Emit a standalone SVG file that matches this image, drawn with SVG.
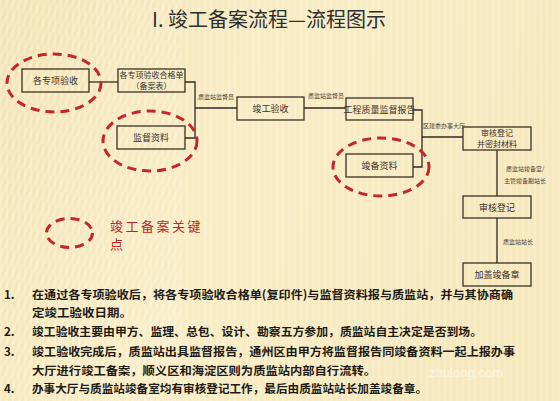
<svg xmlns="http://www.w3.org/2000/svg" width="560" height="401" viewBox="0 0 560 401">
<defs>
<linearGradient id="bg" x1="0" y1="0" x2="1" y2="0.3">
<stop offset="0" stop-color="#f4e3b3"/>
<stop offset="0.5" stop-color="#f9edc5"/>
<stop offset="1" stop-color="#f7e8bd"/>
</linearGradient>
<pattern id="stripes" width="6" height="6" patternUnits="userSpaceOnUse">
<rect x="0" y="0" width="2" height="6" fill="#ffffff" opacity="0.18"/>
</pattern>
<pattern id="diag" width="6" height="6" patternUnits="userSpaceOnUse" patternTransform="rotate(25)">
<rect x="0" y="0" width="2" height="6" fill="#ffffff" opacity="0.22"/>
</pattern>
<style>
.box{fill:none;stroke:#3a3022;stroke-width:1.3}
.bt{font-family:"Noto Sans CJK SC","Noto Sans",sans-serif;font-size:9px;fill:#3a3330;text-anchor:middle}
.bt2{font-family:"Noto Sans CJK SC","Noto Sans",sans-serif;font-size:8px;fill:#3a3330;text-anchor:middle}
.lbl{font-family:"Noto Sans CJK SC","Noto Sans",sans-serif;font-size:6px;fill:#4a4238}
.ln{fill:none;stroke:#2e2a24;stroke-width:1.3}
.ring{fill:none;stroke:#c4262a;stroke-width:3;stroke-dasharray:9 6}
.item{font-family:"Noto Sans CJK SC","Noto Sans",sans-serif;font-size:11.5px;font-weight:bold;fill:#1e1a14}
</style>
</defs>
<rect width="560" height="401" fill="url(#bg)"/>
<rect width="560" height="401" fill="url(#stripes)"/>
<rect width="180" height="401" fill="url(#diag)"/>

<text x="269" y="27" text-anchor="middle" font-family="'Noto Sans CJK SC','Noto Sans',sans-serif" font-size="20" fill="#2e2e2e">I. 竣工备案流程—流程图示</text>

<g id="connectors">
<line class="ln" x1="89" y1="82" x2="118" y2="82"/>
<polyline class="ln" points="185,82 195,82 195,138 185,138"/>
<line class="ln" x1="195" y1="108" x2="237" y2="108"/>
<line class="ln" x1="304" y1="108" x2="346" y2="108"/>
<polyline class="ln" points="413,110 422,110 422,167 413,167"/>
<line class="ln" x1="422" y1="137" x2="463" y2="137"/>
<line class="ln" x1="497" y1="150" x2="497" y2="196"/>
<line class="ln" x1="497" y1="218" x2="497" y2="263"/>
<text class="lbl" x="198" y="99">质监站监督员</text>
<text class="lbl" x="308" y="98">质监站监督员</text>
<text class="lbl" x="423" y="128">区建委办事大厅</text>
<text class="lbl" x="506" y="171">质监站竣备室/</text>
<text class="lbl" x="504" y="183">主管竣备副站长</text>
<text class="lbl" x="503" y="244">质监站站长</text>
</g>

<g id="n1"><rect class="box" x="22" y="69" width="67" height="23"/><text class="bt" x="55.5" y="84">各专项验收</text></g>
<g id="n2"><rect class="box" x="118" y="69" width="67" height="23"/><text class="bt2" x="151.5" y="78">各专项验收合格单</text><text class="bt2" x="151.5" y="89">（备案表）</text></g>
<g id="n3"><rect class="box" x="117" y="126" width="68" height="23"/><text class="bt" x="151" y="141">监督资料</text></g>
<g id="n4"><rect class="box" x="237" y="97" width="67" height="23"/><text class="bt" x="270.5" y="112">竣工验收</text></g>
<g id="n5"><rect class="box" x="346" y="98" width="67" height="22"/><text class="bt" x="379.5" y="112.5">工程质量监督报告</text></g>
<g id="n6"><rect class="box" x="346" y="154" width="67" height="23"/><text class="bt" x="379.5" y="169">竣备资料</text></g>
<g id="n7"><rect class="box" x="463" y="127" width="68" height="23"/><text class="bt2" x="497" y="136">审核登记</text><text class="bt2" x="497" y="147">并密封材料</text></g>
<g id="n8"><rect class="box" x="463" y="196" width="68" height="22"/><text class="bt" x="497" y="210.5">审核登记</text></g>
<g id="n9"><rect class="box" x="463" y="263" width="68" height="23"/><text class="bt" x="497" y="278">加盖竣备章</text></g>

<g id="rings">
<ellipse class="ring" cx="54" cy="83" rx="47" ry="29"/>
<ellipse class="ring" cx="150" cy="141" rx="47" ry="30"/>
<ellipse class="ring" cx="381" cy="167" rx="48" ry="29"/>
</g>

<g id="legend">
<ellipse class="ring" cx="69.5" cy="233" rx="23" ry="14.5" stroke-width="2.5" stroke-dasharray="8 6"/>
<text x="110" y="231" font-family="'Noto Sans CJK SC','Noto Sans',sans-serif" font-size="13" fill="#b8282a" letter-spacing="2.5">竣工备案关键</text>
<text x="110" y="249" font-family="'Noto Sans CJK SC','Noto Sans',sans-serif" font-size="13" fill="#b8282a">点</text>
</g>

<g id="notes">
<text class="item" x="4" y="299">1.</text>
<text class="item" x="32" y="299" textLength="481" lengthAdjust="spacingAndGlyphs">在通过各专项验收后，将各专项验收合格单(复印件)与监督资料报与质监站，并与其协商确</text>
<text class="item" x="32" y="317" textLength="100" lengthAdjust="spacingAndGlyphs">定竣工验收日期。</text>
<text class="item" x="4" y="336">2.</text>
<text class="item" x="32" y="336" textLength="450" lengthAdjust="spacingAndGlyphs">竣工验收主要由甲方、监理、总包、设计、勘察五方参加，质监站自主决定是否到场。</text>
<text class="item" x="4" y="356">3.</text>
<text class="item" x="32" y="356" textLength="483" lengthAdjust="spacingAndGlyphs">竣工验收完成后，质监站出具监督报告，通州区由甲方将监督报告同竣备资料一起上报办事</text>
<text class="item" x="32" y="375" textLength="344" lengthAdjust="spacingAndGlyphs">大厅进行竣工备案，顺义区和海淀区则为质监站内部自行流转。</text>
<text class="item" x="4" y="393">4.</text>
<text class="item" x="32" y="393" textLength="395" lengthAdjust="spacingAndGlyphs">办事大厅与质监站竣备室均有审核登记工作，最后由质监站站长加盖竣备章。</text>
</g>

<text x="466" y="377" text-anchor="middle" font-family="'Liberation Sans',sans-serif" font-size="13" fill="#ffffff" opacity="0.55">zhulong.com</text>
</svg>
